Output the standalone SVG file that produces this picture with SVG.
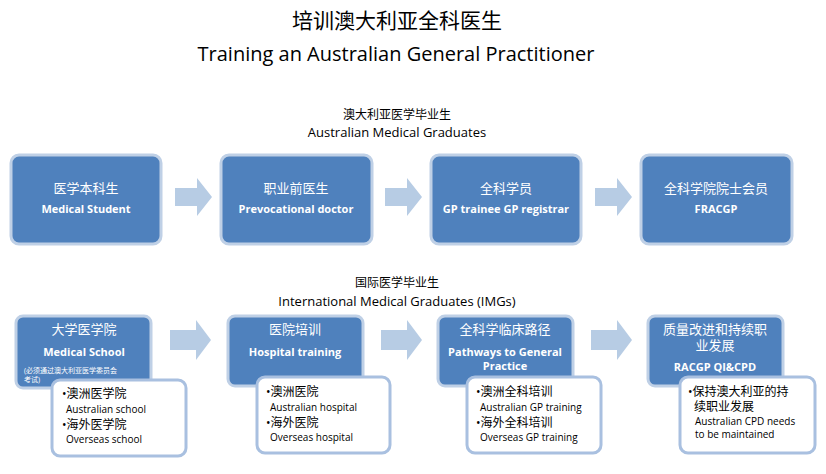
<svg xmlns="http://www.w3.org/2000/svg" width="826" height="474" viewBox="0 0 826 474">
<style>
text{font-family:"Open Sans","Noto Sans CJK SC",sans-serif;text-anchor:middle}
.b{fill:#4f81bd;stroke:#bfd0e6;stroke-width:3}
.w{fill:#fff;stroke:#a9c0e0;stroke-width:3}
.t{fill:#fff;font-size:13px}
.e{fill:#fff;font-size:11px;font-weight:bold}
.k{font-size:12px;fill:#000;text-anchor:start}
.s{font-size:10px;fill:#000;text-anchor:start}
.a{fill:#b7cce4}
</style>
<rect width="826" height="474" fill="#fff"/>
<text x="397" y="28" font-size="21">培训澳大利亚全科医生</text>
<text x="396" y="61" font-size="20">Training an Australian General Practitioner</text>
<text x="397" y="119" font-size="12">澳大利亚医学毕业生</text>
<text x="397" y="137" font-size="13">Australian Medical Graduates</text>
<text x="397" y="287" font-size="12">国际医学毕业生</text>
<text x="397" y="306" font-size="13">International Medical Graduates (IMGs)</text>
<g id="connectors">
<path class="a" d="M175 188h22v-10l15 19-15 19v-10h-22z"/>
<path class="a" d="M385 188h22v-10l15 19-15 19v-10h-22z"/>
<path class="a" d="M595 188h22v-10l15 19-15 19v-10h-22z"/>
<path class="a" d="M170 330h26v-10l15 20-15 20v-10h-26z"/>
<path class="a" d="M381 330h26v-10l15 20-15 20v-10h-26z"/>
<path class="a" d="M591 330h26v-10l15 20-15 20v-10h-26z"/>
</g>
<g id="n1"><rect class="b" x="11" y="155" width="150" height="89" rx="8"/><text class="t" x="86" y="193">医学本科生</text><text class="e" x="86" y="213">Medical Student</text></g>
<g id="n2"><rect class="b" x="221" y="155" width="151" height="89" rx="8"/><text class="t" x="296" y="193">职业前医生</text><text class="e" x="296" y="213">Prevocational  doctor</text></g>
<g id="n3"><rect class="b" x="431" y="155" width="150" height="89" rx="8"/><text class="t" x="506" y="193">全科学员</text><text class="e" x="506" y="213">GP trainee GP registrar</text></g>
<g id="n4"><rect class="b" x="641" y="155" width="151" height="89" rx="8"/><text class="t" x="716" y="193">全科学院院士会员</text><text class="e" x="716" y="213">FRACGP</text></g>
<g id="m1"><rect class="b" x="16" y="316" width="135" height="72" rx="7"/><text class="t" x="84" y="334">大学医学院</text><text class="e" x="84" y="356">Medical School</text><text x="24" y="373" font-size="7" fill="#fff" style="text-anchor:start">(必须通过澳大利亚医学委员会</text><text x="24" y="382" font-size="7" fill="#fff" style="text-anchor:start">考试)</text></g>
<g id="m1d"><rect class="w" x="52" y="380" width="134" height="76" rx="8"/><text class="k" x="62" y="398">•澳洲医学院</text><text class="s" x="66" y="413">Australian school</text><text class="k" x="62" y="429">•海外医学院</text><text class="s" x="66" y="443">Overseas school</text></g>
<g id="m2"><rect class="b" x="228" y="316" width="135" height="70" rx="7"/><text class="t" x="295" y="334">医院培训</text><text class="e" x="295" y="356">Hospital training</text></g>
<g id="m2d"><rect class="w" x="257" y="377" width="133" height="76" rx="8"/><text class="k" x="266" y="396">•澳洲医院</text><text class="s" x="270" y="411">Australian hospital</text><text class="k" x="266" y="427">•海外医院</text><text class="s" x="270" y="441">Overseas hospital</text></g>
<g id="m3"><rect class="b" x="438" y="316" width="135" height="70" rx="7"/><text class="t" x="505" y="334">全科学临床路径</text><text class="e" x="505" y="356">Pathways to General</text><text class="e" x="505" y="370">Practice</text></g>
<g id="m3d"><rect class="w" x="467" y="377" width="134" height="76" rx="8"/><text class="k" x="476" y="396">•澳洲全科培训</text><text class="s" x="480" y="411">Australian GP training</text><text class="k" x="476" y="427">•海外全科培训</text><text class="s" x="480" y="441">Overseas GP training</text></g>
<g id="m4"><rect class="b" x="648" y="316" width="135" height="70" rx="7"/><text class="t" x="715" y="334">质量改进和持续职</text><text class="t" x="715" y="350">业发展</text><text class="e" x="715" y="371">RACGP QI&amp;CPD</text><text class="e" x="715" y="385">Program</text></g>
<g id="m4d"><rect class="w" x="680" y="377" width="135" height="76" rx="8"/><text class="k" x="688" y="396">•保持澳大利亚的持</text><text class="k" x="694" y="411">续职业发展</text><text class="s" x="695" y="425">Australian CPD needs</text><text class="s" x="695" y="438">to be maintained</text></g>
</svg>
